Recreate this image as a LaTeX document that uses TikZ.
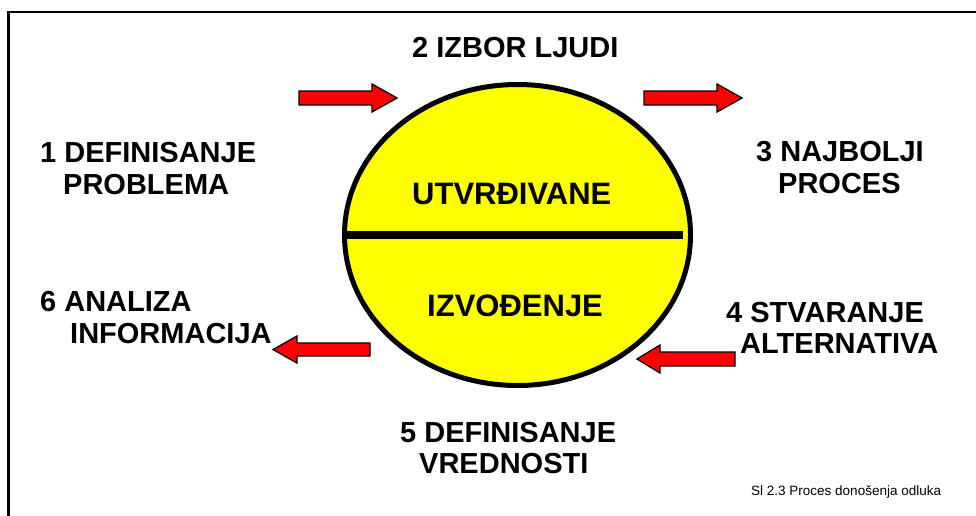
\documentclass[tikz,border=0pt]{standalone}
\usepackage{fontspec}
\setmainfont{Liberation Sans}
\usetikzlibrary{shapes.geometric}
\definecolor{discyellow}{HTML}{FFFF00}
\definecolor{arrowred}{HTML}{FF0000}
\tikzset{
  lbl/.style={inner sep=0pt, anchor=base west, font=\fontsize{29}{33}\selectfont\bfseries},
  inlbl/.style={inner sep=0pt, anchor=base west, font=\fontsize{31}{36}\selectfont\bfseries},
  caption/.style={inner sep=0pt, anchor=base west, font=\fontsize{13.5}{16}\selectfont},
  fatarrow/.style={fill=arrowred, draw=black, line width=1.3pt, line join=miter},
}
\begin{document}
\begin{tikzpicture}[x=1pt,y=-1pt]
\useasboundingbox (0,0) rectangle (976,515);
% outer frame (runs off the page at right and bottom)
\draw[line width=2.8pt] (980,12) -- (8.5,12) -- (8.5,520);

% central disc with divider
\node[ellipse, draw, line width=5pt, fill=discyellow, inner sep=0pt,
      minimum width=346pt, minimum height=301pt] (disc) at (517.5,235) {};
\coordinate (divL) at (345,235);
\coordinate (divR) at (683,235);
\draw[line width=8pt] (divL) -- (divR);

% block arrows
\draw[fatarrow] (299,91) -- (372,91) -- (372,84) -- (397,98) -- (372,112) -- (372,105) -- (299,105) -- cycle;
\draw[fatarrow] (644,91) -- (717,91) -- (717,84) -- (742,98) -- (717,112) -- (717,105) -- (644,105) -- cycle;
\draw[fatarrow] (370,343) -- (297,343) -- (297,336) -- (273,349.5) -- (297,363) -- (297,356) -- (370,356) -- cycle;
\draw[fatarrow] (735,352) -- (660,352) -- (660,345) -- (637,359) -- (660,373) -- (660,366) -- (735,366) -- cycle;

% labels
\node[lbl] (t2) at (412,57) {2 IZBOR LJUDI};
\node[lbl] (t1a) at (40,162) {1 DEFINISANJE};
\node[lbl] (t1b) at (63,194) {PROBLEMA};
\node[lbl] (t3a) at (756,161) {3 NAJBOLJI};
\node[lbl] (t3b) at (778,193) {PROCES};
\node[inlbl] (top) at (412,204) {UTVRĐIVANE};
\node[inlbl] (bot) at (427,316) {IZVOĐENJE};
\node[lbl] (t6a) at (40,311) {6 ANALIZA};
\node[lbl] (t6b) at (70,343) {INFORMACIJA};
\node[lbl] (t4a) at (726,322) {4 STVARANJE};
\node[lbl] (t4b) at (740,353) {ALTERNATIVA};
\node[lbl] (t5a) at (400,442) {5 DEFINISANJE};
\node[lbl] (t5b) at (419,473) {VREDNOSTI};
\node[caption] (cap) at (751,495) {Sl 2.3 Proces donošenja odluka};
\end{tikzpicture}
\end{document}
